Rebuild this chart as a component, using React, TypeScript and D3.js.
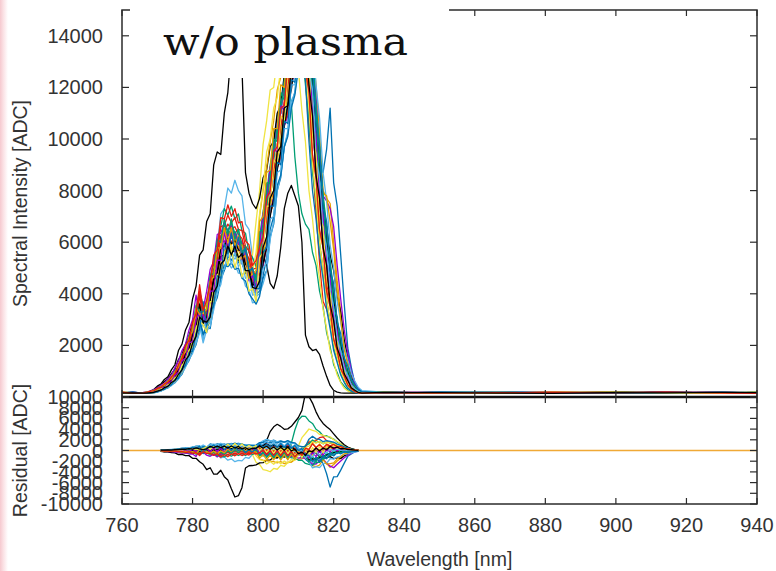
import React from "react";
import * as d3 from "d3";

// Wavelength grid [nm]
const WAVELENGTH = [
  760, 763,
  766, 767, 768, 769, 770, 771, 772, 773, 774, 775, 776, 777, 778, 779, 780, 781, 782, 783, 784, 785,
  786, 787, 788, 789, 790, 791, 792, 793, 794, 795, 796, 797, 798, 799, 800, 801, 802, 803, 804, 805,
  806, 807, 808, 809, 810, 811, 812, 813, 814, 815, 816, 817, 818, 819, 820, 821, 822, 823, 824, 825,
  826, 827, 828,
  834, 850, 866, 882, 898, 914, 930, 940,
];

// Spectra [ADC], one per shot
const S00 = [170,160, 150,170,200,210,290,330,440,510,680,800, 1100,1330,1740,1960,2500,2880,3800,3000,3250,3900, 4800,5000,6100,6000,6500,6200,6400,5900,5900,5300, 5200,4500,4600, 5800,7100,7600,8900,9300,10700,11000,12300,12700,13900, 13900,14500,14100,13900,12000,10800,8600,7600,5900,5000, 3700,2900,1900,1450,920,620,370,260,180,150, 170,150,180,160,140,170,190,160];
const S01 = [150,170, 150,160,190,230,280,370,440,580,690,930, 1120,1500,1760,2200,2550,3200,3650,3100,3200,4400, 4700,5600,5800,6500,6300,6500,6000,6200,5500,5400, 4800,4600,4500, 6200,7200,7900,9000,9700,10900,11300,12300,12200,11400, 9300,7900,7100,6700,6500,5600,5100,4100,3500,2500, 1950,1250,950,580,420,270,210,170,160,150, 150,180,140,170,190,150,160,180];
const S02 = [180,150, 150,160,175,195,245,290,380,450,580,690, 930,1120,1500,1700,2200,2450,3000,2200,3000,4100, 5400,5800,7100,7300,8100,7900,8400,8000,7800,6700, 6500,5400,5100, 5600,6300,7200,7900,8900,9600,10500,11100,12200,12800, 13800,14000,14400,14300,13500,12400,10500,9000,7300,6200, 4800,3900,2700,2100,1350,980,580,400,240,180, 160,140,170,190,150,180,140,170];
const S03 = [140,160, 150,150,155,175,205,250,300,390,470,600, 730,960,1220,1550,1780,2220,2620,3350,2700,2900, 3550,4250,4600,5400,5500,5800,5600,5700,5400,5300, 4850,4600,4100, 4300,5100,5800,7100,7600,8900,9400,10600,11100,12300, 12700,13800,13900,14400,14100,13500,12100,10300,8000,7700, 7500,6000,4500,3300,2200,1400,900,520,300,190, 180,170,150,140,180,160,170,150];
const S04 = [190,170, 150,165,210,240,330,400,540,630,830,980, 1290,1520,1900,2150,2780,3250,3800,3200,3800,4400, 5250,5400,6150,6100,6250,5800,5850,5400,5500,5200, 5350,5500,6800, 8000,9800,10700,11900,12000,13100,13100,14200,14200,14900, 14300,14200,13000,12200,10200,9000,7100,6200,4600,3900, 2800,2150,1450,1030,630,430,270,200,170,150, 140,190,160,150,170,140,180,190];
const S05 = [160,140, 150,155,170,185,230,275,360,420,550,640, 860,1020,1350,1560,1960,2250,2900,2400,2800,3200, 4050,4300,5150,5300,5750,5550,5750,5350,5400,4850, 4800,4300,4250, 4500,5500,5900,7200,7700,9000,9500,10800,11300,12600, 13000,14100,14200,14700,14200,13400,10800,9100,8700,9600, 11200,8300,7400,5500,3600,1900,1150,530,290,180, 190,160,180,170,140,190,150,140];
const S06 = [150,180, 150,160,185,210,275,320,425,500,660,780, 1060,1290,1670,1900,2430,2780,3700,2900,3200,3800, 4650,4900,5900,5850,6400,6000,6150,5750,5700,5200, 5000,4400,4500, 5000,6300,6800,8100,8600,9800,10300,11500,11900,13200, 13500,14300,13500,12500,10400,9100,7200,5200,3700,3400, 3000,1950,1450,920,660,420,300,200,165,150, 160,150,190,140,160,170,190,160];
const S07 = [170,150, 160,180,230,290,420,500,680,780,1050,1250, 1800,2050,2600,2900,3800,4300,5500,5700,6800,7100, 9000,9500,9400,11000,11800,13500,15000,14600,12800,8700, 7900,7500,7300, 7700,8500,8800,9700,9900,11000,11300,12500,12800,13700, 13800,14300,13800,13500,12100,11200,9600,8700,7300,6600, 5500,4900,3900,3300,2200,1550,780,410,220,170, 150,170,140,180,170,150,160,170];
const S08 = [160,190, 150,155,170,180,230,260,355,410,540,630, 850,1020,1400,1600,2080,2330,3100,3300,2900,3200, 4150,4450,5300,5550,6300,6150,6400,5950,6050,5450, 5350,4700,4600, 4300,5100,5800,7100,7800,8900,9300,10500,10900,12200, 12500,13700,13900,14500,14000,13200,11600,9500,7800,7600, 7300,6600,5100,3800,2600,1700,1000,560,330,200, 170,140,160,190,150,140,170,180];
const S09 = [140,150, 150,175,210,260,300,400,470,620,730,960, 1170,1600,1880,2350,2700,3450,4100,3550,3500,4700, 5150,6050,6600,7300,7050,7400,6900,7100,6450,6350, 5600,5400,5050, 6200,6700,8000,8500,9700,10200,11400,11800,13100,13400, 14300,14100,13900,12100,10800,8700,7600,5900,5000,3700, 2900,1950,1450,920,620,370,250,180,150,150, 180,160,150,170,190,160,140,150];
const S10 = [180,160, 150,150,160,175,225,265,350,415,545,650, 880,1070,1400,1580,2000,2350,2800,2100,2600,3150, 3850,4050,4900,4900,5250,5000,5150,4800,4800,4300, 4150,3650,3700, 4800,6100,6600,7900,8400,9600,10100,11300,11700,13000, 13300,14200,14100,14500,13500,12500,10400,9100,7200,6200, 4800,3900,2700,2050,1350,980,580,390,240,180, 140,180,170,150,160,190,150,170];
const S11 = [150,140, 150,160,185,205,265,315,410,490,635,770, 1020,1280,1630,1870,2350,2760,3550,2850,3050,3750, 4500,4850,5700,5850,6100,5950,6000,5750,5600,5150, 4900,4350,4400, 7000,8000,8900,9900,10700,11900,12400,13700,14100,14900, 14800,15200,15000,14400,12600,11000,9200,7500,6300,5000, 3800,2900,2000,1450,940,620,380,250,180,150, 190,150,140,160,180,170,190,140];
const S12 = [190,180, 150,155,175,195,250,300,385,470,600,735, 960,1230,1540,1790,2220,2640,3380,2720,2900,3590, 4220,4620,5380,5550,5750,5640,5650,5450,5300,4900, 4640,4140,4150, 5400,6500,7000,8200,8500,9800,10100,11200,11700,12700, 12500,12700,11100,9900,8000,6900,5500,4600,3400,2650, 1800,1350,850,560,340,235,170,150,150,150, 160,190,180,140,150,160,170,190];
const S13 = [170,140, 150,150,155,160,195,230,300,350,465,550, 720,880,1200,1410,1760,2030,2600,3050,2700,2650, 3550,3850,4550,4900,5450,5300,5550,5200,5350,4850, 4750,4200,4000, 4100,4600,4900,6200,6700,8000,8500,9700,10200,11400, 11800,13100,13400,14300,14000,12500,10400,9100,7200,6200, 4800,3900,2700,2050,1350,980,580,390,240,180, 150,170,190,180,140,150,180,160];
const S14 = [150,160, 150,165,205,235,310,360,475,560,735,880, 1190,1460,1890,2130,2720,3150,4100,3250,3550,4250, 5200,5500,6600,6650,7050,6750,6950,6500,6450,5850, 5650,4950,5000, 4700,5300,5800,7100,7600,8900,9300,10600,11000,12200, 12700,13800,13900,13900,12100,10800,8700,7600,5900,5000, 3700,2900,1950,1450,920,620,370,260,180,150, 170,140,150,190,170,180,140,150];
const S15 = [160,170, 150,170,210,250,350,440,600,700,900,1080, 1450,1650,2050,2350,2900,3200,3800,3100,3400,3800, 4650,4800,5450,5500,5950,5600,5700,5300,5200,4800, 4700,4300,4700, 5300,5500,5100,4400,4200,4700,5800,7300,7900,8200, 7800,7400,6000,2400,1950,1800,1850,1650,1200,800, 450,260,190,160,150,150,150,150,150,150, 140,160,170,150,190,140,160,180];
const S16 = [180,150, 175,200,225,290,340,450,535,700,840,1130, 1390,1800,2040,2600,3000,3950,3100,3400,4100,4950, 5250,6300,6350,6750,6450,6650,6250,6150,5600,5350, 4750,4800,4700, 5900,7100,7600,8900,9300,10600,11000,12200,12700,13800, 14100,15000,14800,14600,12700,11300,9100,7900,6200,5200, 3900,3000,2050,1500,970,650,390,270,185,160, 180,190,140,160,150,170,190,140];
const S17 = [140,180, 160,180,195,240,280,360,430,570,665,890, 1070,1470,1720,2150,2480,3150,3750,3250,3250,4300, 4750,5550,6050,6650,6450,6750,6350,6500,5900,5850, 5150,4950,4650, 5300,6600,7300,8600,9200,10500,11000,12300,12800,14100, 14500,15400,15300,15500,14600,13400,11300,9800,7800,6700, 5200,4200,2950,2200,1480,1050,640,420,265,190, 160,150,180,170,140,190,150,170];
const S18 = [170,160, 150,150,150,165,185,240,285,370,440,570, 690,920,1150,1470,1680,2100,2480,3200,2550,2750, 3380,4050,4350,5100,5250,5500,5350,5400,5150,5000, 4600,4400,3900, 4000,4400,4900,6100,6800,8000,8600,9700,10300,11400, 11800,13100,13500,14300,14100,13900,12100,10800,8700,7600, 5900,5000,3700,2900,1950,1450,920,620,370,250, 190,140,160,180,170,150,170,190];
const S19 = [160,150, 150,150,165,175,220,255,330,390,515,610, 800,980,1330,1570,1950,2260,2870,3450,2950,2950, 3900,4300,5050,5500,6050,5900,6150,5800,5900,5400, 5300,4700,4450, 4500,5500,6200,7400,8000,9200,9800,11000,11600,12700, 13100,14100,14200,14300,12900,11500,9400,8500,7900,7800, 6800,5700,4100,3000,1850,1250,680,410,235,170, 150,180,190,140,180,160,140,160];
const S20 = [190,140, 150,165,200,235,315,380,510,605,790,950, 1250,1490,1870,2140,2680,3100,3820,3150,3600,4200, 5000,5300,5950,5900,6050,5700,5800,5400,5400,5000, 5000,4850,5600, 7100,8100,9500,10000,11200,11600,12800,13200,14300,14400, 15000,14400,14100,12500,11200,9000,7700,5900,5000,3700, 2950,2050,1520,980,670,420,285,200,170,150, 170,160,150,190,160,140,180,150];
const S21 = [150,190, 150,150,150,185,215,275,335,435,520,670, 830,1130,1330,1650,1920,2420,2950,2500,2500,3300, 3700,4250,4700,5100,5050,5200,4950,5000,4600,4500, 4000,3800,3600, 3900,4700,5400,6500,7000,8200,8600,9700,10100,11200, 11700,12700,12800,12300,9900,8000,6900,5500,4600,3400, 2650,1800,1330,850,560,340,235,170,150,150, 140,190,170,160,150,180,160,170];
const S22 = [160,170, 165,175,205,225,290,345,450,540,695,850, 1120,1410,1790,2060,2580,3030,3920,3120,3370,4100, 4950,5300,6250,6400,6700,6500,6600,6300,6150,5650, 5350,4800,4800, 5100,5900,7000,7700,8800,9400,10500,11100,12100,12800, 13700,14000,14400,14200,13800,12200,10700,8800,6600,4400, 3700,3200,2650,1850,1330,830,530,310,215,160, 180,150,160,170,190,150,170,140];
const S23 = [140,160, 150,165,185,215,270,330,410,495,640,770, 1030,1280,1650,1880,2380,2750,3600,2850,3100,3750, 4500,4850,5750,5850,6150,5950,6050,5700,5650,5150, 4950,4350,4350, 4400,5200,5800,7000,7700,8800,9500,10500,11300,11900, 13000,13500,14200,14200,13800,12200,10700,8800,7500,6000, 5000,3700,2850,1950,1450,930,620,370,255,180, 160,170,140,150,180,190,150,180];
const S24 = [150,180, 150,170,170,230,250,350,380,540,600,840, 960,1400,1500,2100,2150,3000,3300,3150,2800,4100, 4100,5300,5300,6400,5700,6500,5600,6300,5200,5600, 4500,4700,4100, 5900,6100,7800,7900,9600,9500,11300,11100,12900,12900, 14300,13900,14700,13600,13400,11000,10200,7800,7100,5200, 4600,3100,2550,1600,1250,740,510,300,220,165, 160,170,150,180,140,190,160,150];
const S25 = [170,150, 160,185,195,265,290,400,450,640,720,1020, 1170,1650,1820,2400,2600,3550,3300,3300,3400,4700, 4800,6100,6000,6900,6300,6900,6100,6500,5600,5800, 4800,5000,4500, 6400,6500,8300,8300,10000,9900,11800,11500,13500,13100, 14700,13800,14800,13900,14200,11800,11200,8400,7900,5700, 5300,3400,3100,1800,1550,880,640,360,260,180, 190,150,170,140,180,160,150,180];
const S26 = [160,160, 150,150,160,170,220,250,340,390,525,610, 830,1000,1350,1520,1960,2200,2950,2750,2800,2900, 3850,4000,4950,4950,5600,5150,5600,5050,5300,4600, 4700,3950,4000, 4300,5000,5200,6900,7000,8700,8800,10400,10400,12100, 12100,13700,13500,14500,12600,11900,9300,8500,6400,5800, 4100,3500,2250,1800,1100,820,470,320,210,165, 140,180,190,150,160,140,180,170];
const S27 = [180,140, 165,190,195,260,290,400,450,620,700,980, 1150,1600,1750,2320,2550,3450,3200,3250,3400,4500, 4650,5800,5750,6550,6000,6550,5850,6250,5350,5500, 4600,4800,4900, 6800,7000,8700,8800,10400,10400,12100,12000,13700,13400, 14700,13900,14300,12600,11900,9300,8500,6400,5800,4100, 3500,2250,1800,1100,820,470,320,210,165,150, 170,160,140,190,150,180,170,150];
const S28 = [140,170, 150,155,155,200,225,310,340,480,530,750, 850,1240,1370,1820,1950,2700,2950,2800,2500,3700, 3700,4750,4700,5650,5100,5750,5000,5550,4650,4950, 4100,4200,3700, 5400,5600,7400,7400,9200,9000,10900,10700,12500,12400, 14100,13600,14800,13200,12800,10100,9400,6900,6600,4500, 4000,2600,2100,1250,1000,560,400,240,185,150, 180,140,160,170,190,150,140,190];
const S29 = [170,190, 150,155,155,195,200,280,300,430,470,670, 730,1080,1220,1730,1780,2480,2620,3700,2750,3250, 3550,4700,4600,5950,5550,6350,5650,6200,5450,5750, 4900,5000,4200, 4200,5600,5800,7400,7400,9100,9000,10700,10600,12300, 12200,13600,13100,14000,12900,12800,10500,9700,7300,6800, 4900,4400,2900,2450,1500,1200,700,480,290,210, 150,190,180,160,140,170,190,160];
const S30 = [190,150, 150,175,230,240,330,370,510,580,780,900, 1260,1500,2000,2200,2900,3250,4350,3350,3750,4400, 5500,5700,6950,6900,7450,7000,7300,6750,6800,6050, 5900,5100,5300, 5800,6200,7700,8000,9500,9700,11200,11300,12900,12900, 14300,13900,14400,12700,11800,9400,8500,6500,5800,4100, 3500,2250,1800,1100,820,470,320,210,165,150, 160,150,170,180,160,190,150,140];
const S31 = [150,160, 150,150,165,180,230,265,360,410,560,640, 880,1050,1430,1610,2080,2350,3100,2950,2900,3100, 4050,4300,5150,5300,5850,5500,5850,5400,5550,4900, 4900,4250,4200, 4500,5800,6200,7700,8000,9500,9700,11200,11300,12800, 12900,14200,13800,14000,12100,10900,8600,7700,5800,5100, 3600,2950,1900,1500,900,640,360,260,175,150, 180,170,150,140,170,160,180,170];

const SERIES = [
  S00, S01, S02, S03, S04, S05, S06, S07, S08, S09, S10, S11, S12, S13, S14, S15,
  S16, S17, S18, S19, S20, S21, S22, S23, S24, S25, S26, S27, S28, S29, S30, S31,
];

// gnuplot default line colours (cycled)
const COLORS = ["#9400d3", "#009e73", "#56b4e9", "#e69f00", "#f0e442", "#0072b2", "#e51e10", "#000000"];

const X_TICKS = [760, 780, 800, 820, 840, 860, 880, 900, 920, 940];
const Y_TICKS = [0, 2000, 4000, 6000, 8000, 10000, 12000, 14000];
const Y_LABELS = [2000, 4000, 6000, 8000, 10000, 12000, 14000];
const RES_TICKS = [-10000, -8000, -6000, -4000, -2000, 0, 2000, 4000, 6000, 8000, 10000];
const RES_RANGE = [771, 827];

const TITLE = "w/o plasma";
const Y_TITLE = "Spectral Intensity [ADC]";
const RES_TITLE = "Residual [ADC]";
const X_TITLE = "Wavelength [nm]";

export default function App() {
  const W = 776;
  const H = 571;
  const L = 122, R = 757, T = 10, MID = 397, B = 504;
  const x = d3.scaleLinear().domain([760, 940]).range([L, R]);
  const y = d3.scaleLinear().domain([0, 15000]).range([MID, T]);
  const yr = d3.scaleLinear().domain([-10000, 10000]).range([B, MID]);

  const n = Math.min(WAVELENGTH.length, ...SERIES.map((s) => s.length));
  const mean = d3.range(n).map((j) => d3.mean(SERIES, (s) => s[j]) as number);

  const line = d3
    .line<[number, number]>()
    .x((d) => x(d[0]))
    .y((d) => y(d[1]));
  const lineR = d3
    .line<[number, number]>()
    .x((d) => x(d[0]))
    .y((d) => yr(d[1]));

  const font = "'Liberation Sans', Arial, Helvetica, sans-serif";
  const axisColor = "#2b2b2b";
  const textColor = "#333";
  const sw = 1.3;

  return (
    <svg
      width={W}
      height={H}
      style={{ position: "absolute", left: 0, top: 0, background: "#fff" }}
      xmlns="http://www.w3.org/2000/svg"
    >
      <defs>
        <clipPath id="clipTop">
          <rect x={L} y={T} width={R - L} height={MID - T} />
        </clipPath>
        <clipPath id="clipRes">
          <rect x={L} y={MID} width={R - L} height={B - MID} />
        </clipPath>
        <linearGradient id="pink" x1="0" x2="1" y1="0" y2="0">
          <stop offset="0" stopColor="#f6c9cf" />
          <stop offset="0.45" stopColor="#fbe3e6" />
          <stop offset="1" stopColor="#ffffff" />
        </linearGradient>
      </defs>
      <rect x={0} y={0} width={W} height={H} fill="#fff" />
      <rect x={0} y={0} width={8} height={H} fill="url(#pink)" />

      {/* spectra */}
      <g clipPath="url(#clipTop)">
        {SERIES.map((s, i) => (
          <path
            key={i}
            d={line(d3.range(n).map((j) => [WAVELENGTH[j], s[j]] as [number, number])) || ""}
            fill="none"
            stroke={COLORS[i % COLORS.length]}
            strokeWidth={sw}
            strokeLinejoin="round"
          />
        ))}
      </g>

      {/* residuals */}
      <g clipPath="url(#clipRes)">
        <line x1={x(760)} x2={x(940)} y1={yr(0)} y2={yr(0)} stroke="#f0a936" strokeWidth={1.6} />
        {SERIES.map((s, i) => {
          const pts = d3
            .range(n)
            .filter((j) => WAVELENGTH[j] >= RES_RANGE[0] && WAVELENGTH[j] <= RES_RANGE[1])
            .map((j) => [WAVELENGTH[j], mean[j] - s[j]] as [number, number]);
          return (
            <path
              key={i}
              d={lineR(pts) || ""}
              fill="none"
              stroke={COLORS[i % COLORS.length]}
              strokeWidth={sw}
              strokeLinejoin="round"
            />
          );
        })}
      </g>

      {/* frame */}
      <g stroke={axisColor} fill="none">
        <rect x={L} y={T} width={R - L} height={B - T} strokeWidth={1.5} />
        <line x1={L} x2={R} y1={MID} y2={MID} strokeWidth={2.6} stroke="#111" />
        {Y_TICKS.map((v) => (
          <g key={"yt" + v}>
            <line x1={L} x2={L + 7} y1={y(v)} y2={y(v)} strokeWidth={1.2} />
            <line x1={R} x2={R - 7} y1={y(v)} y2={y(v)} strokeWidth={1.2} />
          </g>
        ))}
        {RES_TICKS.map((v) => (
          <g key={"rt" + v}>
            <line x1={L} x2={L + 7} y1={yr(v)} y2={yr(v)} strokeWidth={1.2} />
            <line x1={R} x2={R - 7} y1={yr(v)} y2={yr(v)} strokeWidth={1.2} />
          </g>
        ))}
        {X_TICKS.map((v) => (
          <g key={"xt" + v}>
            <line x1={x(v)} x2={x(v)} y1={T} y2={T + 6} strokeWidth={1.2} />
            <line x1={x(v)} x2={x(v)} y1={MID} y2={MID - 7} strokeWidth={1.2} />
            <line x1={x(v)} x2={x(v)} y1={MID} y2={MID + 6} strokeWidth={1.2} />
            <line x1={x(v)} x2={x(v)} y1={B} y2={B - 6} strokeWidth={1.2} />
          </g>
        ))}
      </g>

      {/* title box */}
      <rect x={130} y={0} width={319} height={78} fill="#fff" />
      <text
        x={163}
        y={55}
        fontFamily="'DejaVu Serif', 'Liberation Serif', serif"
        fontSize={40}
        fill="#111"
        textLength={245}
        lengthAdjust="spacingAndGlyphs"
      >
        {TITLE}
      </text>

      {/* tick labels */}
      <g fontFamily={font} fontSize={20} fill={textColor}>
        {Y_LABELS.map((v) => (
          <text key={"yl" + v} x={L - 19} y={y(v)} dy="0.35em" textAnchor="end">
            {v}
          </text>
        ))}
        {RES_TICKS.map((v) => (
          <text key={"rl" + v} x={L - 19} y={yr(v)} dy="0.35em" textAnchor="end">
            {v}
          </text>
        ))}
        {X_TICKS.map((v) => (
          <text key={"xl" + v} x={x(v)} y={532} textAnchor="middle">
            {v}
          </text>
        ))}
      </g>

      {/* axis titles */}
      <g fontFamily={font} fontSize={19.5} fill={textColor}>
        <text transform={`translate(27,${(T + MID) / 2}) rotate(-90)`} textAnchor="middle">
          {Y_TITLE}
        </text>
        <text transform={`translate(27,${(MID + B) / 2}) rotate(-90)`} textAnchor="middle">
          {RES_TITLE}
        </text>
        <text x={(L + R) / 2} y={566} textAnchor="middle">
          {X_TITLE}
        </text>
      </g>
    </svg>
  );
}
